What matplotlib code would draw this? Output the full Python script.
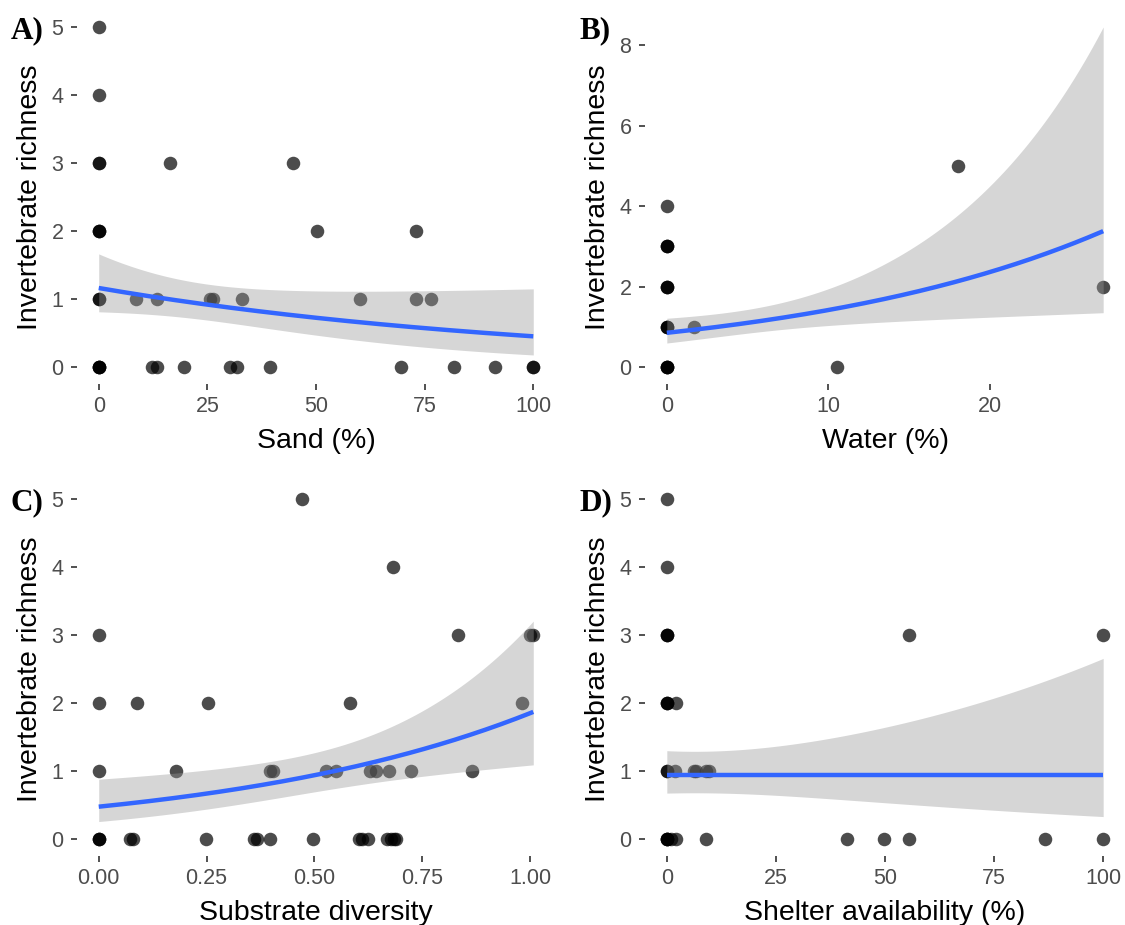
import numpy as np
import matplotlib
matplotlib.use("Agg")
import matplotlib.pyplot as plt

# ---------------- data ----------------
# Panel A: sand (%) vs invertebrate richness
sand_x = [0, 0, 0, 0, 0, 0, 0, 0, 0, 0, 0, 0, 0,
          16.5, 44.8, 50.2, 73.1,
          8.5, 13.4, 25.7, 26.4, 33.0, 60.1, 73.1, 76.4,
          12.2, 13.4, 19.7, 30.3, 31.9, 39.5, 69.5, 81.7, 91.2, 100, 100]
sand_y = [5, 4, 3, 3, 2, 2, 2, 1, 1, 0, 0, 0, 0,
          3, 3, 2, 2,
          1, 1, 1, 1, 1, 1, 1, 1,
          0, 0, 0, 0, 0, 0, 0, 0, 0, 0, 0]

# Panel B: water (%)
water_x = [0, 0, 0, 0, 0, 0, 0, 0, 0, 0, 0, 0, 0, 0,
           1.7, 10.5, 18.0, 27.0]
water_y = [0, 0, 0, 0, 1, 1, 1, 2, 2, 2, 3, 3, 3, 4,
           1, 0, 5, 2]

# Panel C: substrate diversity
subdiv_x = [0.470, 0.681,
            0.0, 0.833, 1.0, 1.007,
            0.0, 0.089, 0.253, 0.582, 0.981,
            0.0, 0.180, 0.396, 0.404, 0.526, 0.549, 0.629, 0.642, 0.673, 0.724, 0.865,
            0.0, 0.0, 0.0, 0.073, 0.079, 0.249, 0.360, 0.367, 0.397, 0.496,
            0.603, 0.611, 0.623, 0.669, 0.677, 0.684, 0.690]
subdiv_y = [5, 4,
            3, 3, 3, 3,
            2, 2, 2, 2, 2,
            1, 1, 1, 1, 1, 1, 1, 1, 1, 1, 1,
            0, 0, 0, 0, 0, 0, 0, 0, 0, 0,
            0, 0, 0, 0, 0, 0, 0]

# Panel D: shelter availability (%)
shelter_x = [0, 0, 0, 0, 0, 55.4, 100,
             0, 0, 0, 2.1,
             0, 0, 1.8, 6.2, 6.8, 8.9, 9.7,
             0, 0, 0, 0, 1.0, 2.2, 8.9, 41.4, 49.7, 55.4, 86.6, 100]
shelter_y = [5, 4, 3, 3, 3, 3, 3,
             2, 2, 2, 2,
             1, 1, 1, 1, 1, 1, 1,
             0, 0, 0, 0, 0, 0, 0, 0, 0, 0, 0, 0]

# Poisson GLM fits (link scale intercept, slope)
fit_A = (0.150, -0.00946)
fit_B = (-0.163, 0.0511)
fit_C = (-0.744, 1.36)
fit_D = (-0.066, 0.0)
# standard errors (link scale) at min, middle, max of x
se_A = (0.183, 0.222, 0.477)
se_B = (0.181, 0.212, 0.468)
se_C = (0.314, 0.154, 0.275)
se_D = (0.167, 0.287, 0.532)

panels = [
    ("A)", sand_x, sand_y, fit_A, se_A, "Sand (%)", [0, 25, 50, 75, 100], ["0", "25", "50", "75", "100"], [0, 1, 2, 3, 4, 5]),
    ("B)", water_x, water_y, fit_B, se_B, "Water (%)", [0, 10, 20], ["0", "10", "20"], [0, 2, 4, 6, 8]),
    ("C)", subdiv_x, subdiv_y, fit_C, se_C, "Substrate diversity", [0, 0.25, 0.5, 0.75, 1.0], ["0.00", "0.25", "0.50", "0.75", "1.00"], [0, 1, 2, 3, 4, 5]),
    ("D)", shelter_x, shelter_y, fit_D, se_D, "Shelter availability (%)", [0, 25, 50, 75, 100], ["0", "25", "50", "75", "100"], [0, 1, 2, 3, 4, 5]),
]

# ---------------- layout ----------------
W, H = 1125, 925
fig = plt.figure(figsize=(W / 100, H / 100), dpi=100)
sans = "Liberation Sans"
serif = "Liberation Serif"

boxes = [(77, 10, 555, 384), (645, 10, 1125, 384),
         (77, 482, 555, 856), (645, 482, 1125, 856)]

for (letter, xs, ys, fit, se, xlabel, xt, xtl, yt), (l, t, r, b) in zip(panels, boxes):
    ax = fig.add_axes([l / W, 1 - b / H, (r - l) / W, (b - t) / H])
    xs = np.asarray(xs, float)
    ys = np.asarray(ys, float)
    ax.scatter(xs, ys, s=95, color="black", alpha=0.7, linewidths=0, zorder=2)

    x0, x1 = xs.min(), xs.max()
    grid = np.linspace(x0, x1, 200)
    xm = (x0 + x1) / 2
    q = np.polyfit([x0, xm, x1], np.square(se), 2)
    se_g = np.sqrt(np.polyval(q, grid))
    eta = fit[0] + fit[1] * grid
    lo = np.exp(eta - 1.96 * se_g)
    hi = np.exp(eta + 1.96 * se_g)
    ax.fill_between(grid, lo, hi, color="#999999", alpha=0.4, linewidth=0, zorder=3)
    ax.plot(grid, np.exp(eta), color="#3366FF", lw=3.2, zorder=4, solid_capstyle="butt")

    xr = x1 - x0
    ax.set_xlim(x0 - 0.05 * xr, x1 + 0.05 * xr)
    ymin = min(ys.min(), lo.min())
    ymax = max(ys.max(), hi.max())
    yr = ymax - ymin
    ax.set_ylim(ymin - 0.05 * yr, ymax + 0.05 * yr)

    ax.set_xticks(xt)
    ax.set_xticklabels(xtl)
    ax.set_yticks(yt)
    for s in ax.spines.values():
        s.set_visible(False)
    ax.tick_params(axis="both", length=4.3, width=1.2, color="#333333",
                   labelcolor="#4D4D4D", labelsize=15.5)
    ax.tick_params(axis="x", pad=4)
    ax.tick_params(axis="y", pad=5.5)
    for lab in ax.get_xticklabels() + ax.get_yticklabels():
        lab.set_family(sans)
    ax.set_facecolor("white")

    # axis titles
    fig.text((l + r) / 2 / W, 1 - (b + 64) / H, xlabel, ha="center", va="baseline",
             fontsize=20.5, family=sans, color="black")
    fig.text((l - 47) / W, 1 - (t + b) / 2 / H, "Invertebrate richness", ha="center",
             va="center", rotation=90, fontsize=20.5, family=sans, color="black")
    # panel letter
    fig.text((l - 66) / W, 1 - (t + 28) / H, letter, ha="left", va="baseline",
             fontsize=22.5, family=serif, fontweight="bold", color="black")

fig.savefig("out.png", dpi=100, facecolor="white")
